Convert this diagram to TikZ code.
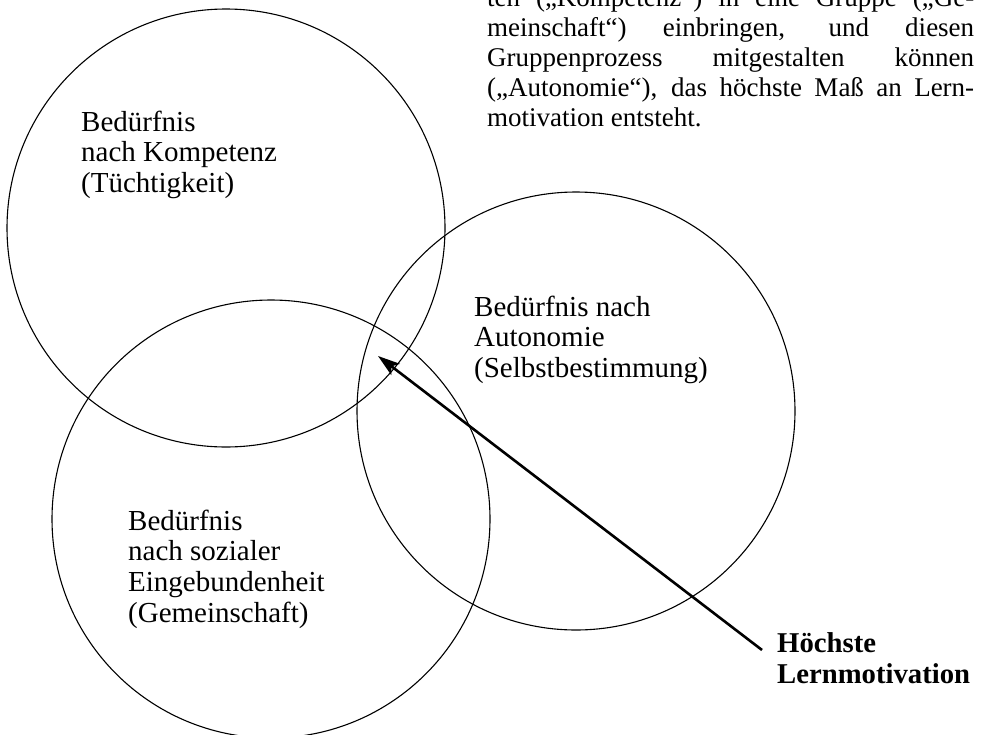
\documentclass[tikz,border=0pt]{standalone}
\usepackage{fontspec}
\setmainfont{Liberation Serif}
\usetikzlibrary{arrows.meta}
\begin{document}
\begin{tikzpicture}[x=1pt,y=-1pt,
  ring/.style={circle, draw, line width=1.1pt, minimum size=438pt, inner sep=0pt},
  lbl/.style={anchor=base west, inner sep=0pt, font=\fontsize{29}{30.7}\selectfont},
  boldlbl/.style={lbl, font=\fontsize{28.7}{31}\selectfont\bfseries},
  paratext/.style={anchor=base west, inner sep=0pt, font=\fontsize{27}{30}\selectfont},
  pointer/.style={-{Stealth[length=22pt,width=14pt,inset=5pt]}, line width=2.6pt}]
\useasboundingbox (0,0) rectangle (983,734);
\clip (0,0) rectangle (983,734);
\node[ring] (komp) at (226,228) {};
\node[ring] (gem) at (271,519) {};
\node[ring] (auto) at (576,411) {};
\node[lbl] (tkomp) at (81,131) {\begin{tabular}[t]{@{}l@{}}Bedürfnis\\nach Kompetenz\\(Tüchtigkeit)\end{tabular}};
\node[lbl] (tauto) at (474,316) {\begin{tabular}[t]{@{}l@{}}Bedürfnis nach\\Autonomie\\(Selbstbestimmung)\end{tabular}};
\node[lbl] (tgem) at (128,530) {\begin{tabular}[t]{@{}l@{}}Bedürfnis\\nach sozialer\\Eingebundenheit\\(Gemeinschaft)\end{tabular}};
\node[boldlbl] (hoechst) at (777,652) {\begin{tabular}[t]{@{}l@{}}Höchste\\Lernmotivation\end{tabular}};
\node[paratext] (para) at (487,6) {\begin{tabular}[t]{@{}l@{}}\makebox[487pt][s]{ten („Kompetenz“) in eine Gruppe („Ge-}\\
\makebox[487pt][s]{meinschaft“) einbringen, und diesen}\\
\makebox[487pt][s]{Gruppenprozess mitgestalten können}\\
\makebox[487pt][s]{(„Autonomie“), das höchste Maß an Lern-}\\
motivation entsteht.\end{tabular}};
\coordinate (tail) at (762,650);
\coordinate (tip) at (378,356);
\draw[pointer] (tail) -- (tip);
\end{tikzpicture}
\end{document}
